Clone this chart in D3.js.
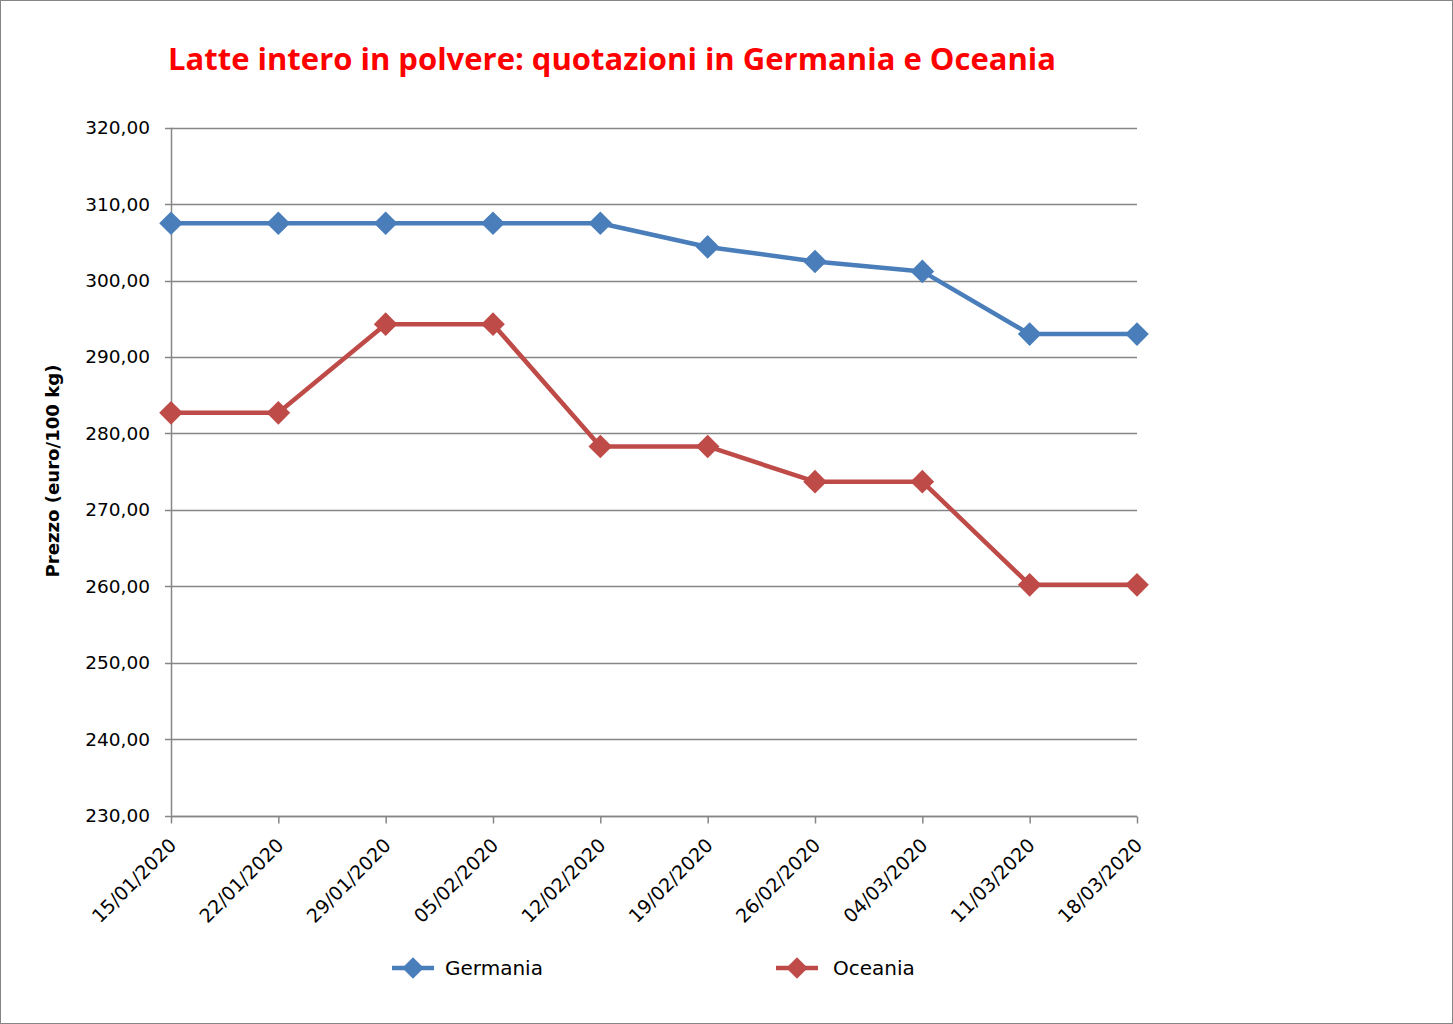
<!DOCTYPE html>
<html><head><meta charset="utf-8">
<script src="https://cdn.jsdelivr.net/npm/d3@7"></script>
<style>body{margin:0;background:#fff}</style>
</head><body>
<script>
const categories = ["15/01/2020","22/01/2020","29/01/2020","05/02/2020","12/02/2020","19/02/2020","26/02/2020","04/03/2020","11/03/2020","18/03/2020"];
const germania = [307.5,307.5,307.5,307.5,307.5,304.4,302.5,301.2,293.0,293.0];
const oceania = [282.7,282.7,294.3,294.3,278.3,278.3,273.7,273.7,260.2,260.2];
const yTicks = [230,240,250,260,270,280,290,300,310,320];
const seriesNames = ["Germania","Oceania"];
const colors = ["#4a7ebb","#be4b48"];

const W=1453,H=1024;
const svg=d3.select("body").append("svg").attr("width",W).attr("height",H);
svg.append("rect").attr("x",0.5).attr("y",0.5).attr("width",W-1).attr("height",H-1).attr("fill","#fff").attr("stroke","#868686");

const L=171,R=1137,T=127.7,B=815.7;
const x=d3.scalePoint().domain(categories).range([L,R]);
const y=d3.scaleLinear().domain([230,320]).range([B,T]);
const font="DejaVu Sans, Verdana, sans-serif";

// gridlines
svg.append("g").selectAll("line").data(yTicks).join("line")
 .attr("x1",L-6).attr("x2",R).attr("y1",d=>Math.round(y(d))+0.5).attr("y2",d=>Math.round(y(d))+0.5)
 .attr("stroke","#868686").attr("stroke-width",1.5);

// axes
const yAxis=d3.axisLeft(y).tickValues(yTicks).tickSize(0).tickPadding(21).tickFormat(d=>d3.format(".2f")(d).replace(".",","));
const gy=svg.append("g").attr("transform",`translate(${L},0)`).call(yAxis);
gy.select(".domain").remove();
gy.selectAll("text").attr("font-family",font).attr("font-size",18.5).attr("fill","#000");
svg.append("line").attr("x1",L+0.5).attr("x2",L+0.5).attr("y1",T).attr("y2",B).attr("stroke","#868686").attr("stroke-width",1.5);

const xAxis=d3.axisBottom(x).tickSize(7).tickPadding(4);
const gx=svg.append("g").attr("transform",`translate(0,${Math.round(B)+0.5})`).call(xAxis);
gx.select(".domain").attr("stroke","#868686").attr("stroke-width",1.5).attr("d",`M${L},0H${R}`);
gx.selectAll(".tick line").attr("stroke","#868686").attr("stroke-width",1.5);
gx.selectAll("text").attr("font-family",font).attr("font-size",19).attr("fill","#000")
 .attr("text-anchor","end").attr("dy",null).attr("y",0)
 .attr("transform","translate(6,30) rotate(-45)");

// series
const line=d3.line().x((d,i)=>x(categories[i])).y(d=>y(d));
[germania,oceania].forEach((s,k)=>{
  svg.append("path").attr("d",line(s)).attr("fill","none").attr("stroke",colors[k]).attr("stroke-width",4.5).attr("stroke-linejoin","round");
  svg.append("g").selectAll("path").data(s).join("path")
   .attr("d",d3.symbol().type(d3.symbolSquare).size(280)())
   .attr("transform",(d,i)=>`translate(${x(categories[i])},${y(d)}) rotate(45)`)
   .attr("fill",colors[k]);
});

// title
svg.append("text").attr("x",168).attr("y",70).attr("font-family","Open Sans, sans-serif").attr("font-weight","bold")
 .attr("font-size",30).attr("fill","#ff0000").attr("textLength",888).attr("lengthAdjust","spacingAndGlyphs")
 .text("Latte intero in polvere: quotazioni in Germania e Oceania");

// y title
svg.append("text").attr("transform","translate(59,471) rotate(-90)").attr("text-anchor","middle")
 .attr("font-family",font).attr("font-weight","bold").attr("font-size",18).attr("fill","#000")
 .attr("textLength",213).attr("lengthAdjust","spacingAndGlyphs")
 .text("Prezzo (euro/100 kg)");

// legend
const legX=[392,776];
seriesNames.forEach((n,k)=>{
  const g=svg.append("g").attr("transform",`translate(${legX[k]},968)`);
  g.append("line").attr("x1",0).attr("x2",42).attr("y1",0).attr("y2",0).attr("stroke",colors[k]).attr("stroke-width",4.5);
  g.append("path").attr("d",d3.symbol().type(d3.symbolSquare).size(230)()).attr("transform","translate(21,0) rotate(45)").attr("fill",colors[k]);
  g.append("text").attr("x",k===0?53:57).attr("y",7).attr("font-family",font).attr("font-size",20).attr("fill","#000").text(n);
});
</script>
</body></html>
